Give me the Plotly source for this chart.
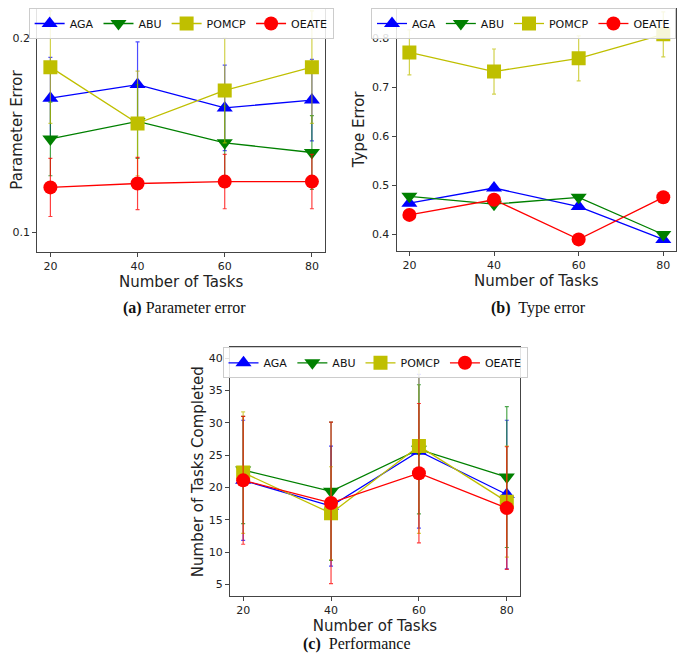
import plotly.graph_objects as go

tasks = [20, 40, 60, 80]
methods = ["AGA", "ABU", "POMCP", "OEATE"]

# (a) parameter error
param_aga = [0.169, 0.176, 0.164, 0.168]
param_abu = [0.148, 0.157, 0.146, 0.141]
param_pomcp = [0.185, 0.156, 0.173, 0.185]
param_oeate = [0.123, 0.125, 0.126, 0.126]
param_aga_err = [0.021, 0.022, 0.022, 0.021]
param_abu_err = [0.019, 0.019, 0.019, 0.019]
param_pomcp_err = [0.029, 0.027, 0.027, 0.029]
param_oeate_err = [0.015, 0.0135, 0.014, 0.014]

# (b) type error
type_aga = [0.463, 0.494, 0.456, 0.389]
type_abu = [0.477, 0.461, 0.475, 0.399]
type_pomcp = [0.771, 0.732, 0.759, 0.808]
type_oeate = [0.439, 0.470, 0.389, 0.475]
type_pomcp_err = [0.046, 0.046, 0.046, 0.046]

# (c) performance
perf_aga = [21.1, 17.1, 25.6, 18.9]
perf_abu = [22.7, 19.4, 25.9, 21.6]
perf_pomcp = [22.3, 16.0, 26.4, 17.8]
perf_oeate = [21.1, 17.6, 22.2, 16.8]
perf_aga_err = [9.3, 9.3, 11.9, 11.5]
perf_abu_err = [8.3, 10.7, 10.0, 10.9]
perf_pomcp_err = [9.4, 7.2, 13.5, 8.6]
perf_oeate_err = [9.9, 12.5, 10.8, 9.5]

colors = {"AGA": "#0000ff", "ABU": "#008000", "POMCP": "#bfbf00", "OEATE": "#ff0000"}
err_colors = {"AGA": "rgba(0,0,255,0.7)", "ABU": "rgba(0,128,0,0.7)",
              "POMCP": "rgba(191,191,0,0.7)", "OEATE": "rgba(255,0,0,0.75)"}
symbols = {"AGA": "triangle-up", "ABU": "triangle-down", "POMCP": "square", "OEATE": "circle"}

panels = [
    ("x", "y", "legend", [param_aga, param_abu, param_pomcp, param_oeate],
     [param_aga_err, param_abu_err, param_pomcp_err, param_oeate_err]),
    ("x2", "y2", "legend2", [type_aga, type_abu, type_pomcp, type_oeate],
     [None, None, type_pomcp_err, None]),
    ("x3", "y3", "legend3", [perf_aga, perf_abu, perf_pomcp, perf_oeate],
     [perf_aga_err, perf_abu_err, perf_pomcp_err, perf_oeate_err]),
]

fig = go.Figure()
for xa, ya, lg, series, errs in panels:
    for m, vals, err in zip(methods, series, errs):
        fig.add_trace(go.Scatter(
            x=tasks, y=vals, name=m, xaxis=xa, yaxis=ya, legend=lg,
            mode="lines+markers",
            line=dict(color=colors[m], width=1.3),
            marker=dict(symbol=symbols[m], size=14, color=colors[m]),
            error_y=dict(type="data", array=err, visible=err is not None,
                         color=err_colors[m], thickness=1.2, width=2),
        ))

tick_font = dict(family="DejaVu Sans", size=11, color="#222")
title_font = dict(family="DejaVu Sans", size=15, color="#222")
axis_common = dict(showline=True, linecolor="#444", linewidth=1.2, mirror=True,
                   ticks="outside", ticklen=4, tickcolor="#444", showgrid=False,
                   zeroline=False, tickfont=tick_font, automargin=False)

legend_common = dict(orientation="h", yanchor="top",
                     bgcolor="rgba(255,255,255,0.85)", bordercolor="#ccc", borderwidth=1,
                     font=dict(family="DejaVu Sans", size=11, color="#111"),
                     itemwidth=30, tracegroupgap=0)

# the page body adds an 8px offset; keep the figure inside the visible window
fig.update_layout(
    width=669, height=647,
    margin=dict(l=0, r=0, t=0, b=0),
    paper_bgcolor="white", plot_bgcolor="white",
    xaxis=dict(domain=[0.0438, 0.4738], range=[17, 83], tickvals=tasks, anchor="y",
               title=dict(text="Number of Tasks", font=title_font, standoff=3), **axis_common),
    yaxis=dict(domain=[0.6229, 1.0], range=[0.0897, 0.2155], tickvals=[0.1, 0.2], anchor="x",
               title=dict(text="Parameter Error", font=title_font, standoff=16), **axis_common),
    xaxis2=dict(domain=[0.5810, 0.9985], range=[17, 83], tickvals=tasks, anchor="y2",
                title=dict(text="Number of Tasks", font=title_font, standoff=3), **axis_common),
    yaxis2=dict(domain=[0.6249, 1.0], range=[0.3659, 0.8618], dtick=0.1, tickformat=".1f",
                anchor="x2",
                title=dict(text="Type Error", font=title_font, standoff=3), **axis_common),
    xaxis3=dict(domain=[0.3318, 0.7653], range=[17, 83], tickvals=tasks, anchor="y3",
                title=dict(text="Number of Tasks", font=title_font, standoff=3), **axis_common),
    yaxis3=dict(domain=[0.0912, 0.4756], range=[3.19, 41.7], dtick=5, anchor="x3",
                title=dict(text="Number of Tasks Completed", font=title_font, standoff=1),
                **axis_common),
    legend=dict(x=0.2588, xanchor="center", y=1.0, **legend_common),
    legend2=dict(x=0.9985, xanchor="right", y=1.0, **legend_common),
    legend3=dict(x=0.5486, xanchor="center", y=0.4756, **legend_common),
    showlegend=True,
)

cap_font = dict(family="Liberation Serif", size=16, color="#111")
captions = [
    ("<b>(a)</b> Parameter error", 0.2631, 0.5363, "middle"),
    ("<b>(b)</b>  Type error", 0.7937, 0.5363, "middle"),
    ("<b>(c)</b>  Performance", 0.5224, 0.0, "bottom"),
]
for text, cx, cy, anchor in captions:
    fig.add_annotation(text=text, x=cx, y=cy, xref="paper", yref="paper",
                       showarrow=False, font=cap_font, xanchor="center", yanchor=anchor)

fig.write_html("out.html")
